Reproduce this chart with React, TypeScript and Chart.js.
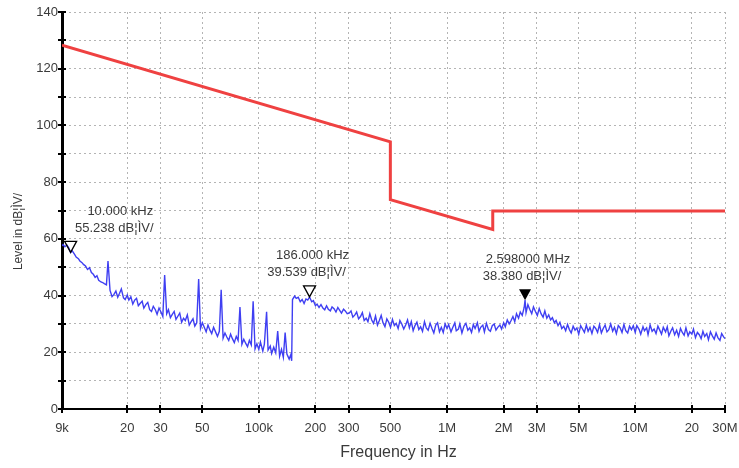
import React, { useEffect, useRef } from "react";
import { Chart, registerables } from "chart.js";

Chart.register(...registerables);

// ---- axis ticks ----
const xTickValues = [9e3, 2e4, 3e4, 5e4, 1e5, 2e5, 3e5, 5e5, 1e6, 2e6, 3e6, 5e6, 1e7, 2e7, 3e7];
const xTickLabels = ["9k", "20", "30", "50", "100k", "200", "300", "500", "1M", "2M", "3M", "5M", "10M", "20", "30M"];
const yMin = 0;
const yMax = 140;
const yStep = 10;

// ---- limit line (red) ----
const limitFreqHz = [9e3, 5e5, 5e5, 1.75e6, 1.75e6, 3e7];
const limitLevel = [128.3, 94.2, 73.8, 63.3, 69.8, 69.8];

// ---- measured trace (blue) ----
// 9 kHz .. 100 kHz (kHz)
const traceFreqKHzA = [
  9.0, 9.12, 9.33, 9.55, 9.77, 10.0, 10.2, 10.5, 10.7, 11.0,
  11.2, 11.5, 11.7, 12.0, 12.3, 12.6, 12.9, 13.2, 13.5, 13.8,
  14.1, 14.5, 14.8, 15.1, 15.5, 15.8, 16.2, 16.6, 17.0, 17.4,
  17.8, 18.2, 18.6, 19.1, 19.5, 20.0, 20.4, 20.9, 21.4, 21.9,
  22.4, 22.9, 23.4, 24.0, 24.5, 25.1, 25.7, 26.3, 26.9, 27.5,
  28.2, 28.8, 29.5, 30.2, 30.9, 31.6, 32.4, 33.1, 33.9, 34.7,
  35.5, 36.3, 37.2, 38.0, 38.9, 39.8, 40.7, 41.7, 42.7, 43.7,
  44.7, 45.7, 46.8, 47.9, 49.0, 50.1, 51.3, 52.5, 53.7, 55.0,
  56.2, 57.5, 58.9, 60.3, 61.7, 63.1, 64.6, 66.1, 67.6, 69.2,
  70.8, 72.4, 74.1, 75.9, 77.6, 79.4, 81.3, 83.2, 85.1, 87.1,
  89.1, 91.2, 93.3, 95.5, 97.7,
];
const traceLevelA = [
  57.5, 58.0, 57.2, 57.8, 56.8, 55.2, 55.8, 54.5, 53.6, 53.0,
  52.2, 51.6, 51.0, 50.4, 49.2, 49.8, 48.1, 47.5, 46.4, 47.0,
  45.4, 44.8, 44.6, 44.2, 43.8, 52.2, 41.8, 39.6, 40.4, 41.6,
  39.4, 40.8, 42.3, 39.2, 38.6, 40.2, 38.4, 39.6, 37.0, 38.4,
  39.0, 36.4, 37.2, 38.0, 35.6, 36.8, 37.6, 35.0, 34.4, 36.2,
  35.0, 33.4, 35.6, 34.2, 32.6, 47.2, 33.6, 35.0, 32.2, 33.4,
  34.4, 31.6, 32.8, 33.8, 30.6, 32.0, 31.2, 33.2, 29.6, 30.8,
  31.8, 29.2, 30.4, 45.8, 28.4, 30.4, 28.8, 27.2, 29.6, 27.8,
  26.6, 28.8, 27.2, 25.6, 27.4, 42.0, 25.0, 26.8, 25.4, 24.2,
  26.4, 24.8, 23.4, 25.6, 24.2, 36.0, 22.8, 24.6, 23.2, 22.0,
  24.2, 22.6, 38.0, 21.2, 23.0,
];
// 100 kHz .. 1 MHz (kHz)
const traceFreqKHzB = [
  100, 102, 105, 107, 110, 112, 115, 117, 120, 123,
  126, 129, 132, 135, 138, 141, 145, 148, 149.5, 151,
  155, 158, 162, 166, 170, 174, 178, 182, 186, 191,
  195, 200, 204, 209, 214, 219, 224, 229, 234, 240,
  245, 251, 257, 263, 269, 275, 282, 288, 295, 302,
  309, 316, 324, 331, 339, 347, 355, 363, 372, 380,
  389, 398, 407, 417, 427, 437, 447, 457, 468, 479,
  490, 501, 513, 525, 537, 550, 562, 575, 589, 603,
  617, 631, 646, 661, 676, 692, 708, 724, 741, 759,
  776, 794, 813, 832, 851, 871, 891, 912, 933, 955,
  977,
];
const traceLevelB = [
  21.0, 23.6, 20.4, 22.8, 34.3, 20.8, 22.2, 19.6, 21.8, 19.8,
  27.5, 18.6, 21.0, 18.2, 27.0, 19.4, 17.6, 19.2, 17.0, 38.6,
  39.8, 39.0, 39.4, 37.8, 38.6, 37.2, 38.8, 38.4, 39.5, 37.8,
  38.2, 36.4, 37.0, 35.8, 36.8, 35.6, 35.0, 36.4, 35.2, 34.6,
  36.0, 35.4, 34.2, 35.8, 34.8, 33.8, 35.2, 34.6, 33.6, 33.8,
  34.6, 32.4, 33.2, 34.2, 31.8, 32.6, 34.0, 31.2, 32.0, 30.8,
  33.6, 31.4, 30.2, 32.8, 29.6, 31.2, 33.0, 30.4, 29.0, 31.8,
  30.6, 28.8, 31.6, 29.4, 30.2, 28.4, 31.2, 30.0, 28.2, 29.6,
  31.4, 28.6, 30.8, 27.6, 29.4, 30.6, 28.0, 29.0, 27.4, 30.8,
  28.6, 27.8, 30.2, 28.4, 26.8, 29.6, 30.4, 27.2, 28.8, 27.0,
  30.0,
];
// 1 MHz .. 10 MHz (MHz)
const traceFreqMHzC = [
  1.0, 1.02, 1.05, 1.07, 1.1, 1.12, 1.15, 1.17, 1.2, 1.23,
  1.26, 1.29, 1.32, 1.35, 1.38, 1.41, 1.45, 1.48, 1.51, 1.55,
  1.58, 1.62, 1.66, 1.7, 1.74, 1.78, 1.82, 1.86, 1.91, 1.95,
  2.0, 2.04, 2.09, 2.14, 2.19, 2.24, 2.29, 2.34, 2.4, 2.45,
  2.51, 2.57, 2.598, 2.63, 2.69, 2.75, 2.82, 2.88, 2.95, 3.02,
  3.09, 3.16, 3.24, 3.31, 3.39, 3.47, 3.55, 3.63, 3.72, 3.8,
  3.89, 3.98, 4.07, 4.17, 4.27, 4.37, 4.47, 4.57, 4.68, 4.79,
  4.9, 5.01, 5.13, 5.25, 5.37, 5.5, 5.62, 5.75, 5.89, 6.03,
  6.17, 6.31, 6.46, 6.61, 6.76, 6.92, 7.08, 7.24, 7.41, 7.59,
  7.76, 7.94, 8.13, 8.32, 8.51, 8.71, 8.91, 9.12, 9.33, 9.55,
  9.77,
];
const traceLevelC = [
  28.4, 29.8, 27.2, 28.6, 30.4, 27.6, 28.2, 30.0, 26.8, 29.2,
  30.2, 27.8, 28.6, 27.0, 29.8, 28.4, 30.4, 27.4, 28.8, 29.6,
  27.2, 30.2, 28.0, 27.4, 29.4, 30.0, 27.8, 28.8, 29.6, 28.2,
  30.4, 29.0, 31.4, 30.0, 31.2, 32.6, 30.8, 33.6, 32.0, 34.2,
  33.0, 35.8, 38.4, 34.0, 36.8, 35.2, 33.6, 36.0, 34.4, 33.0,
  35.4, 33.6, 32.4, 34.6, 32.0, 33.2, 31.4, 32.2, 30.4, 31.2,
  29.4, 30.6, 28.4, 29.2, 27.6, 29.8, 28.0, 26.8, 29.2, 27.8,
  28.6, 26.4, 29.4, 28.2, 27.0, 29.6, 27.4, 28.8, 26.6, 29.2,
  28.4, 27.0, 29.8, 26.8, 28.4, 29.6, 27.2, 28.0, 30.0, 27.4,
  28.8, 26.6, 29.4, 28.6, 27.0, 29.8, 27.6, 26.8, 29.2, 28.0,
  29.4,
];
// 10 MHz .. 30 MHz (MHz)
const traceFreqMHzD = [
  10.0, 10.2, 10.5, 10.7, 11.0, 11.2, 11.5, 11.7, 12.0, 12.3,
  12.6, 12.9, 13.2, 13.5, 13.8, 14.1, 14.5, 14.8, 15.1, 15.5,
  15.8, 16.2, 16.6, 17.0, 17.4, 17.8, 18.2, 18.6, 19.1, 19.5,
  20.0, 20.4, 20.9, 21.4, 21.9, 22.4, 22.9, 23.4, 24.0, 24.5,
  25.1, 25.7, 26.3, 26.9, 27.5, 28.2, 28.8, 29.5, 30.0,
];
const traceLevelD = [
  27.0, 29.4, 28.0, 26.4, 29.0, 27.6, 28.6, 26.2, 29.6, 27.4,
  28.2, 26.6, 29.2, 27.8, 26.4, 28.8, 27.2, 29.0, 25.8, 27.6,
  28.6, 26.2, 27.8, 25.6, 28.4, 27.0, 26.0, 28.6, 25.8, 27.2,
  26.4, 28.2, 25.2, 27.0, 26.2, 24.8, 27.4, 25.6, 26.6, 24.4,
  27.2, 25.8, 24.6, 26.8, 25.2, 24.2, 26.6, 25.4, 24.8,
];

// ---- markers ----
const markerFreqHz = [10e3, 186e3, 2.598e6];
const markerLevel = [55.238, 39.539, 38.38];
const markerFilled = [false, false, true];
const markerFreqText = ["10.000 kHz", "186.000 kHz", "2.598000 MHz"];
const markerLevelText = ["55.238 dB¦ÌV/", "39.539 dB¦ÌV/", "38.380 dB¦ÌV/"];

const xTitle = "Frequency in Hz";
const yTitle = "Level in dB¦ÌV/";

const FONT = '"Liberation Sans", Arial, sans-serif';
const TEXT_COLOR = "#3a3a3a";

function buildTrace() {
  const pts: { x: number; y: number }[] = [];
  traceFreqKHzA.forEach((f, i) => pts.push({ x: f * 1e3, y: traceLevelA[i] }));
  traceFreqKHzB.forEach((f, i) => pts.push({ x: f * 1e3, y: traceLevelB[i] }));
  traceFreqMHzC.forEach((f, i) => pts.push({ x: f * 1e6, y: traceLevelC[i] }));
  traceFreqMHzD.forEach((f, i) => pts.push({ x: f * 1e6, y: traceLevelD[i] }));
  return pts;
}

const overlayPlugin = {
  id: "overlay",
  afterDraw(chart: any) {
    const { ctx, chartArea, scales } = chart;
    const xs = scales.x;
    const ys = scales.y;
    ctx.save();
    // tick marks crossing the axes
    ctx.strokeStyle = "#000";
    ctx.lineWidth = 2;
    for (let v = yMin; v <= yMax; v += yStep) {
      const py = Math.round(ys.getPixelForValue(v));
      ctx.beginPath();
      ctx.moveTo(chartArea.left - 4, py);
      ctx.lineTo(chartArea.left + 4, py);
      ctx.stroke();
    }
    for (const v of xTickValues) {
      const px = Math.round(xs.getPixelForValue(v));
      ctx.beginPath();
      ctx.moveTo(px, chartArea.bottom - 4);
      ctx.lineTo(px, chartArea.bottom + 4);
      ctx.stroke();
    }
    // markers
    ctx.font = `13px ${FONT}`;
    ctx.textAlign = "center";
    ctx.textBaseline = "middle";
    markerFreqHz.forEach((f, i) => {
      const px = xs.getPixelForValue(f);
      const py = ys.getPixelForValue(markerLevel[i]);
      ctx.beginPath();
      ctx.moveTo(px, py);
      ctx.lineTo(px - 6, py - 11);
      ctx.lineTo(px + 6, py - 11);
      ctx.closePath();
      if (markerFilled[i]) {
        ctx.fillStyle = "#000";
        ctx.fill();
      } else {
        ctx.strokeStyle = "#000";
        ctx.lineWidth = 1.3;
        ctx.stroke();
      }
      const t1 = markerFreqText[i];
      const t2 = markerLevelText[i];
      const w1 = ctx.measureText(t1).width;
      const w2 = ctx.measureText(t2).width;
      let c1 = px + 3;
      let c2 = px - 3;
      const minLeft = chartArea.left + 13;
      const shift = Math.max(0, minLeft - (c2 - w2 / 2), minLeft - (c1 - w1 / 2));
      c1 += shift;
      c2 += shift;
      ctx.fillStyle = TEXT_COLOR;
      ctx.fillText(t1, c1, py - 41);
      ctx.fillText(t2, c2, py - 24);
    });
    // axis titles
    ctx.fillStyle = TEXT_COLOR;
    ctx.font = `16px ${FONT}`;
    ctx.textAlign = "center";
    ctx.textBaseline = "middle";
    ctx.fillText(xTitle, (chartArea.left + chartArea.right) / 2 + 5, chartArea.bottom + 44);
    ctx.font = `12px ${FONT}`;
    ctx.translate(19, (chartArea.top + chartArea.bottom) / 2 + 21);
    ctx.rotate(-Math.PI / 2);
    ctx.fillText(yTitle, 0, 0);
    ctx.restore();
  },
};

export default function App() {
  const canvasRef = useRef<HTMLCanvasElement | null>(null);

  useEffect(() => {
    document.body.style.margin = "0";
    const canvas = canvasRef.current;
    if (!canvas) return;
    const chart = new Chart(canvas, {
      type: "line",
      data: {
        datasets: [
          {
            label: "trace",
            data: buildTrace(),
            borderColor: "#3f3ff2",
            borderWidth: 1.4,
            pointRadius: 0,
            tension: 0,
            fill: false,
          },
          {
            label: "limit",
            data: limitFreqHz.map((f, i) => ({ x: f, y: limitLevel[i] })),
            borderColor: "#ef4141",
            borderWidth: 3,
            pointRadius: 0,
            tension: 0,
            fill: false,
          },
        ],
      },
      options: {
        responsive: false,
        animation: false,
        devicePixelRatio: 1,
        layout: { padding: { top: 12, right: 14, left: 0, bottom: 0 } },
        plugins: {
          legend: { display: false },
          tooltip: { enabled: false },
        },
        scales: {
          x: {
            type: "logarithmic",
            min: 9e3,
            max: 3e7,
            afterBuildTicks: (scale: any) => {
              scale.ticks = xTickValues.map((v) => ({ value: v }));
            },
            afterFit: (scale: any) => {
              scale.height = 59;
              scale.paddingLeft = 0;
              scale.paddingRight = 0;
            },
            ticks: {
              autoSkip: false,
              maxRotation: 0,
              minRotation: 0,
              padding: 12,
              color: TEXT_COLOR,
              font: { family: FONT, size: 13 },
              callback: (_v: any, index: number) => xTickLabels[index],
            },
            grid: { color: "#b4b4b4", lineWidth: 1, drawTicks: false },
            border: { display: true, color: "#000", width: 2, dash: [2, 3] },
            title: { display: false },
          },
          y: {
            type: "linear",
            min: yMin,
            max: yMax,
            afterFit: (scale: any) => {
              scale.width = 62;
              scale.paddingTop = 0;
              scale.paddingBottom = 0;
            },
            ticks: {
              stepSize: yStep,
              padding: 4,
              color: TEXT_COLOR,
              font: { family: FONT, size: 13 },
              callback: (v: any) => (Number(v) % 20 === 0 ? String(v) : ""),
            },
            grid: { color: "#b4b4b4", lineWidth: 1, drawTicks: false },
            border: { display: true, color: "#000", width: 3, dash: [2, 3] },
            title: { display: false },
          },
        },
      },
      plugins: [overlayPlugin],
    } as any);
    return () => chart.destroy();
  }, []);

  return (
    <div style={{ width: 739, height: 468, background: "#fff" }}>
      <canvas ref={canvasRef} width={739} height={468} style={{ display: "block" }} />
    </div>
  );
}
